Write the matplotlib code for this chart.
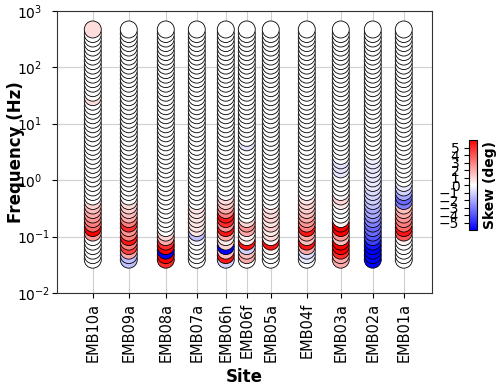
import numpy as np
import matplotlib
matplotlib.use('Agg')
import matplotlib.pyplot as plt

# site names and positions along the profile (km)
sites = ['EMB10a', 'EMB09a', 'EMB08a', 'EMB07a', 'EMB06h', 'EMB06f',
         'EMB05a', 'EMB04f', 'EMB03a', 'EMB02a', 'EMB01a']
dist_km = [0.0, 3.6, 7.3, 10.4, 13.3, 15.4, 17.8, 21.4, 24.8, 28.0, 31.1]

# frequencies (Hz), high to low
freqs = [467.7, 389.0, 323.6, 269.2, 223.9, 186.2, 154.9, 128.8, 107.2, 89.13,
         74.13, 61.66, 51.29, 42.66, 35.48, 29.51, 24.55, 20.42, 16.98, 14.13,
         11.75, 9.772, 8.128, 6.761, 5.623, 4.677, 3.890, 3.236, 2.692, 2.239,
         1.862, 1.549, 1.288, 1.072, 0.8913, 0.7413, 0.6166, 0.5129, 0.4266,
         0.3548, 0.2951, 0.2455, 0.2042, 0.1698, 0.1413, 0.1175, 0.09772,
         0.08128, 0.06761, 0.05623, 0.04677, 0.03890]

# skew (deg) per site, same order as freqs
skew_emb10a = [0.8, 0, 0, 0, 0, 0, 0, 0, 0, 0, 0, 0, 0,
               0, 0, 0.8, 0, 0, 0, 0, 0, 0, 0, 0, 0, 0,
               0, 0, 0, 0, 0, 0, 0, 0, 0, 0, 0, 0, 1.0,
               1.5, 2, 2.5, 3, 3.5, 6, 2.5, 0, 0, 0, 0, 0, 0]
skew_emb09a = [0, 0, 0, 0, 0, 0, 0, 0, 0, 0, 0, 0, 0,
               0, 0, 0, 0, 0, 0, 0, 0, 0, 0, 0, 0, 0,
               0, 0, 0, 0, 0, 0, 0, 0, 0, 0, 0, 0, 0.8,
               1.2, 1.5, 2, 3, 5, 2.5, 3, 5.5, 3, 4.5, 2, -1.5, -1.5]
skew_emb08a = [0, 0, 0, 0, 0, 0, 0, 0, 0, 0, 0, 0, 0,
               0, 0, 0, 0, 0, 0, 0, 0, 0, 0, 0, 0, 0,
               0, 0, 0, 0, 0, 0, 0, 0, 0, 0, 0, 0, 0,
               0, 0, 0, 0, 0, 0, 1, 2, 5, 6, -6, 6, 5]
skew_emb07a = [0, 0, 0, 0, 0, 0, 0, 0, 0, 0, 0, 0, 0,
               0, 0, 0, 0, 0, 0, 0, 0, 0, 0, 0, 0, 0,
               0, 0, 0, 0, 0, 0, 0, 0, 0, 0, 0, 0, 0,
               0.6, 0.6, 0.6, 0.6, 0.6, 0.6, -1.5, -0.3, 0, 0, 0, 0, 0]
skew_emb06h = [0, 0, 0, 0, 0, 0, 0, 0, 0, 0, 0, 0, 0,
               0, 0, 0, 0, 0, 0, 0, 0, 0, 0, 0, 0, 0,
               0, 0, 0, 0, 0, 0, 0, 0, 0, 0, 0, 0.8, 1.2,
               2, 3, 5.5, 5, 2.5, 5.5, 2, 0.5, 1, -6, 1.5, 5.5, -1]
skew_emb06f = [0, 0, 0, 0, 0, 0, 0, 0, 0, 0, 0, 0, 0,
               0, 0, 0, 0, 0, 0, 0, 0, 0, 0, 0, 0, -0.6,
               0, 0, 0, 0, 0, 0, 0, 0, 0, 0, 0, 0, 0,
               0, 0, 0, 1, 2.5, 2, 0.3, 0.5, 5.5, -1, 1.5, 2, 0]
skew_emb05a = [0, 0, 0, 0, 0, 0, 0, 0, 0, 0, 0, 0, 0,
               0, 0, 0, 0, 0, 0, 0, 0, 0, 0, 0, 0, 0,
               0, 0, 0, 0, 0, 0, 0, 0, 0, 0, 0, 0, 0,
               0.6, 0.8, 1, 0.6, 1.2, 0.5, 0.8, 0.3, 5.5, 0.3, 0, 0, 0]
skew_emb04f = [0, 0, 0, 0, 0, 0, 0, 0, 0, 0, 0, 0, 0,
               0, 0, 0, 0, 0, 0, 0, 0, 0, 0, 0, 0, 0,
               0, 0, 0, 0, 0, 0, 0, 0, 0, 0, 0, 0.6, 1,
               1.2, 1.5, 2, 2.5, 3, 5.5, 2, 1.5, 5.5, 2, -0.8, -0.5, 0]
skew_emb03a = [0, 0, 0, 0, 0, 0, 0, 0, 0, 0, 0, 0, 0,
               0, 0, 0, 0, 0, 0, 0, 0, 0, 0, 0, 0, 0,
               0, 0, 0, -0.6, -0.6, -0.6, 0, 0, 0, 0, 0, 1, 0.5,
               0, 0, 0, 0.3, 6, 6, 2.5, 1.5, 6, 6, 5, 2, 2]
skew_emb02a = [0, 0, 0, 0, 0, 0, 0, 0, 0, 0, 0, 0, 0,
               0, 0, 0, 0, 0, 0, 0, 0, 0, 0, 0, 0, 0,
               0, 0, -0.3, -0.5, -0.6, -0.5, -0.6, -0.5, -0.6, -0.8, -1, -1.2, -1.5,
               -2, -2, -2.5, -3, -3.5, -3.5, -4, -4.5, -5.5, -6, -6, -6, -6]
skew_emb01a = [0, 0, 0, 0, 0, 0, 0, 0, 0, 0, 0, 0, 0,
               0, 0, 0, 0, 0, 0, 0, 0, 0, 0, 0, 0, 0,
               0, 0, 0, 0, 0, 0, 0, 0, -0.5, -1, -2, -3.5, -3,
               1.5, 2, 2.5, 3, 3.5, 5.5, 4, 0.3, 0, 0, 0, 0, 0]

skews = [skew_emb10a, skew_emb09a, skew_emb08a, skew_emb07a, skew_emb06h,
         skew_emb06f, skew_emb05a, skew_emb04f, skew_emb03a, skew_emb02a,
         skew_emb01a]

fig = plt.figure(figsize=(4.98, 3.88), dpi=100)
ax = fig.add_axes([0.114, 0.245, 0.753, 0.727])

f = np.array(freqs)
for xpos, sk in zip(dist_km, skews):
    # low frequencies first so the higher ones sit on top
    sc = ax.scatter(np.full(len(f), xpos), f[::-1], c=np.array(sk)[::-1],
                    cmap='bwr', vmin=-6, vmax=6, s=150, edgecolors='k',
                    linewidths=0.6, zorder=3)

ax.set_yscale('log')
ax.set_ylim(1e-2, 1e3)
ax.set_xlim(-3.6, 33.9)
ax.yaxis.set_minor_locator(matplotlib.ticker.NullLocator())
ax.set_xticks(dist_km)
ax.set_xticklabels(sites, rotation=90, fontsize=10.5)
# left-aligned decade labels, as in the original figure
ax.tick_params(axis='y', labelsize=10, pad=25)
for lab in ax.get_yticklabels():
    lab.set_horizontalalignment('left')
ax.grid(True, color='#d0d0d0', linewidth=0.8, zorder=0)
ax.set_axisbelow(True)
for sp in ax.spines.values():
    sp.set_color('#333333')
ax.set_xlabel('Site', fontsize=12, fontweight='bold')
ax.set_ylabel('Frequency (Hz)', fontsize=12, fontweight='bold')
ax.yaxis.set_label_coords(-0.085, 0.5)

cax = fig.add_axes([0.942, 0.407, 0.016, 0.232])
cb = fig.colorbar(sc, cax=cax, ticks=range(-5, 6))
cb.ax.yaxis.set_ticks_position('left')
cb.ax.tick_params(labelsize=10)
cb.set_label('Skew (deg)', fontsize=10, fontweight='bold')
cb.ax.yaxis.set_label_position('right')

fig.savefig('out.png', dpi=100)
